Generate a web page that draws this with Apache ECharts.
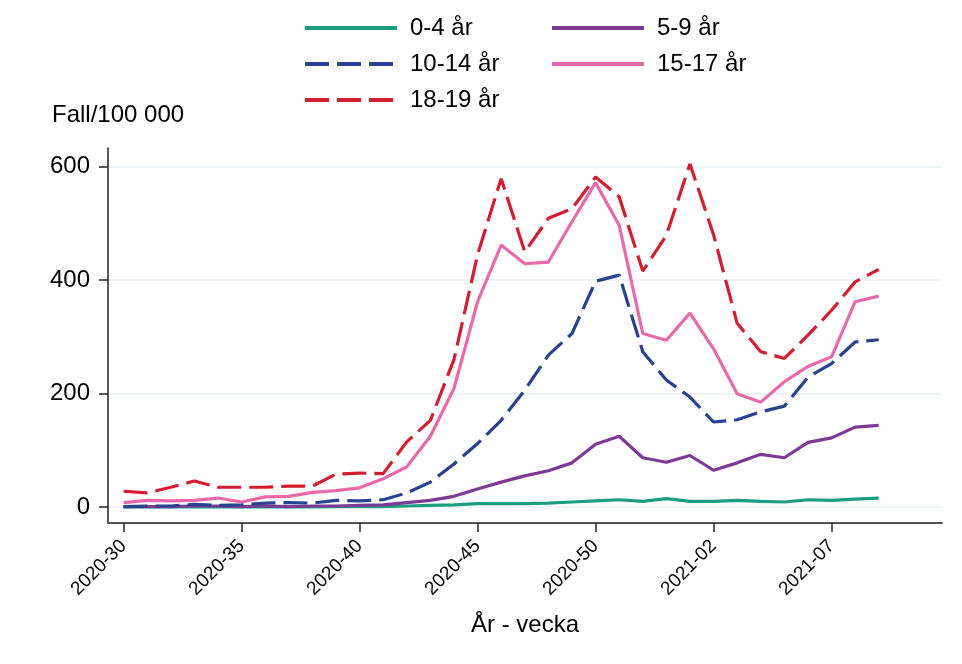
<!DOCTYPE html>
<html>
<head>
<meta charset="utf-8">
<script src="https://cdn.jsdelivr.net/npm/echarts@6/dist/echarts.min.js"></script>
<style>
  html, body { margin: 0; padding: 0; background: #fff; }
  #chart { width: 962px; height: 664px; }
</style>
</head>
<body>
<div id="chart"></div>
<script>
// weeks shown on the x axis (ISO year-week)
const weeks = [
  '2020-30', '2020-31', '2020-32', '2020-33', '2020-34', '2020-35', '2020-36', '2020-37',
  '2020-38', '2020-39', '2020-40', '2020-41', '2020-42', '2020-43', '2020-44', '2020-45',
  '2020-46', '2020-47', '2020-48', '2020-49', '2020-50', '2020-51', '2020-52', '2020-53',
  '2021-01', '2021-02', '2021-03', '2021-04', '2021-05', '2021-06', '2021-07', '2021-08',
  '2021-09'
];
const weekTicks = [0, 5, 10, 15, 20, 25, 30];
const valueTicks = [0, 200, 400, 600];

// cases per 100 000, per age group
const age0to4 = [0.5, 0.5, 0.5, 0.5, 0.5, 0.5, 0.5, 0.5, 0.5, 1, 1, 1, 2, 3, 4, 6, 6, 6, 7, 9, 11, 13, 10, 15, 10, 10, 12, 10, 9, 13, 12, 14, 16];
const age5to9 = [1, 1, 1, 2, 2, 1, 2, 1, 2, 2, 3, 4, 8, 12, 19, 32, 44, 55, 64, 78, 111, 125, 87, 79, 91, 65, 78, 93, 87, 114, 122, 141, 144];
const age10to14 = [1, 2, 2, 5, 3, 4, 7, 8, 7, 12, 11, 13, 25, 44, 76, 112, 153, 206, 268, 306, 398, 409, 274, 224, 194, 150, 154, 168, 178, 229, 253, 291, 295];
const age15to17 = [8, 12, 11, 12, 16, 9, 18, 19, 26, 29, 34, 50, 71, 125, 209, 362, 462, 429, 432, 503, 572, 497, 306, 294, 342, 279, 200, 185, 221, 248, 265, 362, 372];
const age18to19 = [28, 25, 35, 46, 35, 35, 35, 37, 37, 58, 60, 59, 115, 153, 260, 445, 579, 450, 509, 526, 582, 547, 416, 479, 605, 480, 324, 274, 262, 303, 347, 397, 419];

const font = "'Liberation Sans', Arial, sans-serif";
const dash = [24, 8];

const toPoints = (arr) => arr.map((v, i) => [i, v]);

const makeSeries = (name, arr, color, dashed) => ({
  name: name,
  type: 'line',
  symbol: 'none',
  data: toPoints(arr),
  lineStyle: { width: 3.2, color: color, type: dashed ? dash : 'solid' },
  itemStyle: { color: color },
  emphasis: { disabled: true }
});

const chart = echarts.init(document.getElementById('chart'));

const legendText = { fontSize: 24, color: '#000', fontFamily: font, padding: [0, 0, 0, 8] };

const legendBase = {
  orient: 'vertical',
  top: 11,
  itemWidth: 92,
  itemHeight: 20,
  itemGap: 12,
  itemStyle: { opacity: 0 },
  lineStyle: { width: 4 },
  textStyle: legendText
};

const option = {
  animation: false,
  textStyle: { fontFamily: font },
  title: {
    text: 'Fall/100 000',
    left: 47,
    top: 98,
    textStyle: { fontSize: 24, fontWeight: 'normal', color: '#000', fontFamily: font }
  },
  legend: [
    Object.assign({ data: ['0-4 år', '10-14 år', '18-19 år'], left: 298 }, legendBase),
    Object.assign({ data: ['5-9 år', '15-17 år'], left: 545 }, legendBase)
  ],
  grid: {
    left: 108,
    right: 20,
    top: 148,
    bottom: 141
  },
  xAxis: {
    type: 'value',
    min: -0.66,
    max: 34.68,
    name: 'År - vecka',
    nameLocation: 'middle',
    nameGap: 90,
    nameTextStyle: { fontSize: 24, color: '#000', fontFamily: font },
    axisLine: { onZero: false, lineStyle: { color: '#555', width: 2 } },
    axisTick: {
      customValues: weekTicks,
      length: 9,
      lineStyle: { color: '#222', width: 1.5 }
    },
    axisLabel: {
      customValues: weekTicks,
      rotate: 45,
      margin: 20,
      fontSize: 19,
      color: '#000',
      formatter: (v) => weeks[Math.round(v)]
    },
    splitLine: { show: false }
  },
  yAxis: {
    type: 'value',
    min: -28,
    max: 633,
    axisLine: { show: true, onZero: false, lineStyle: { color: '#222', width: 1.5 } },
    axisTick: {
      show: true,
      customValues: valueTicks,
      length: 9,
      lineStyle: { color: '#222', width: 1.5 }
    },
    axisLabel: {
      customValues: valueTicks,
      margin: 18,
      fontSize: 24,
      color: '#000'
    },
    splitLine: { show: true, lineStyle: { color: '#e8f0f3', width: 1.5 } }
  },
  series: [
    makeSeries('0-4 år', age0to4, '#1b9e7e', false),
    makeSeries('5-9 år', age5to9, '#7d3a94', false),
    makeSeries('10-14 år', age10to14, '#27428f', true),
    makeSeries('15-17 år', age15to17, '#e86aa8', false),
    makeSeries('18-19 år', age18to19, '#d21e30', true)
  ]
};

chart.setOption(option);
</script>
</body>
</html>
